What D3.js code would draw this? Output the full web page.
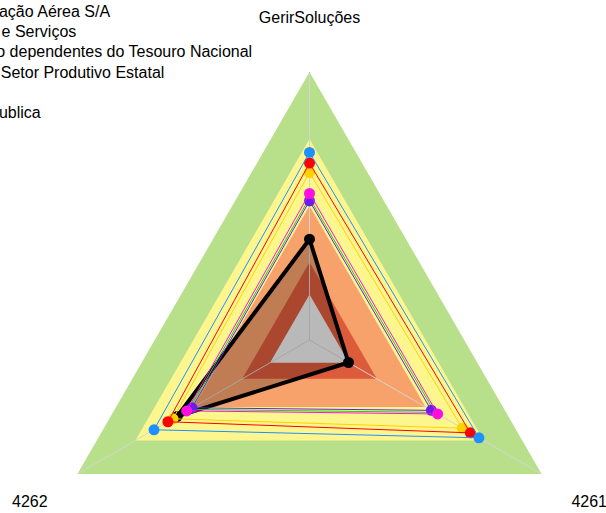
<!DOCTYPE html>
<html><head><meta charset="utf-8">
<script src="https://cdn.jsdelivr.net/npm/d3@7"></script>
<style>body{margin:0;background:#fff;overflow:hidden}svg{display:block}</style>
</head><body>
<script>
// ---- data ----
const axisLabels = ["GerirSoluções", "4261", "4262"];
const bandLevels = [100, 75, 50, 29, 17];
const seriesNames = [
  "Cia de Navegação Aérea S/A",
  "Infraestrutura e Serviços",
  "Empresas não dependentes do Tesouro Nacional",
  "Empresas do Setor Produtivo Estatal",
  "Outros",
  "Companhia Publica",
  "Geral"
];
const blueVals    = [70.0, 73.0, 67.0];
const redVals     = [66.0, 69.3, 61.0];
const goldVals    = [62.5, 65.8, 58.8];
const magentaVals = [54.7, 55.2, 52.9];
const violetVals  = [51.9, 52.5, 50.6];
const greenVals   = [53.0, 54.0, 51.8];
const blackVals   = [37.6, 16.8, 57.0];

// ---- styles ----
const W = 606, H = 513;
const cx = 309.5, cy = 340, R = 268;
const bandColors = ["#b8e08b", "#fdf68f", "#f7a16b", "#dc5b3b", "#eeeeee"];

const series = [
  {name: seriesNames[6], values: blackVals,   color: "#000000", width: 4, fill: "rgba(0,0,0,0.22)", dot: 5.5},
  {name: seriesNames[4], values: greenVals,   color: "#22cc22", width: 1, fill: "none", dot: 0},
  {name: seriesNames[5], values: violetVals,  color: "#6a1ee8", width: 1, fill: "none", dot: 5.5},
  {name: seriesNames[3], values: magentaVals, color: "#ff10e0", width: 1, fill: "none", dot: 5.5},
  {name: seriesNames[2], values: goldVals,    color: "#ffd200", width: 1, fill: "none", dot: 5.5},
  {name: seriesNames[1], values: redVals,     color: "#ff0000", width: 1, fill: "none", dot: 5.5},
  {name: seriesNames[0], values: blueVals,    color: "#1e90ff", width: 1, fill: "none", dot: 5.5}
];
const legendOrder = [6, 5, 4, 3, 1, 2, 0].map(i => series[i]);

const svg = d3.select("body").append("svg").attr("width", W).attr("height", H)
  .style("font-family", "'Liberation Sans', Arial, sans-serif");

const r = d3.scaleLinear().domain([0, 100]).range([0, R]);
const angle = d3.scaleLinear().domain([0, axisLabels.length]).range([-Math.PI / 2, 1.5 * Math.PI]);
const pt = (i, v) => [cx + r(v) * Math.cos(angle(i)), cy + r(v) * Math.sin(angle(i))];
const line = d3.line().curve(d3.curveLinearClosed);

// bands
svg.append("g").selectAll("path").data(bandLevels).join("path")
  .attr("d", lv => line(axisLabels.map((_, i) => pt(i, lv))))
  .attr("fill", (d, i) => bandColors[i]);

// axes
svg.append("g").selectAll("line").data(axisLabels).join("line")
  .attr("x1", cx).attr("y1", cy)
  .attr("x2", (d, i) => pt(i, 100)[0]).attr("y2", (d, i) => pt(i, 100)[1])
  .attr("stroke", "#d4d4d4").attr("stroke-width", 1);

// series
const sg = svg.append("g").selectAll("g").data(series).join("g");
sg.append("path")
  .attr("d", s => line(s.values.map((v, i) => pt(i, v))))
  .attr("fill", s => s.fill).attr("stroke", s => s.color)
  .attr("stroke-width", s => s.width).attr("stroke-linejoin", "round");
sg.selectAll("circle").data(s => s.values.map((v, i) => ({s, v, i}))).join("circle")
  .attr("cx", d => pt(d.i, d.v)[0]).attr("cy", d => pt(d.i, d.v)[1])
  .attr("r", d => d.s.dot).attr("fill", d => d.s.color);

// axis labels
svg.append("g").selectAll("text").data(axisLabels).join("text")
  .attr("x", (d, i) => pt(i, 120.5)[0]).attr("y", (d, i) => pt(i, 120.5)[1])
  .attr("dy", "0.35em").attr("text-anchor", "middle")
  .attr("font-size", 16).attr("fill", "#000").text(d => d);

// legend (partly off-canvas on the left)
const lg = svg.append("g").attr("transform", "translate(-98,0)");
const le = lg.selectAll("g").data(legendOrder).join("g")
  .attr("transform", (d, i) => `translate(0,${17 + i * 20.2})`);
le.append("circle").attr("cx", -14).attr("cy", -5).attr("r", 5).attr("fill", d => d.color);
le.append("text").attr("x", 0).attr("y", 0).attr("font-size", 16).attr("fill", "#000").text(d => d.name);
</script>
</body></html>
